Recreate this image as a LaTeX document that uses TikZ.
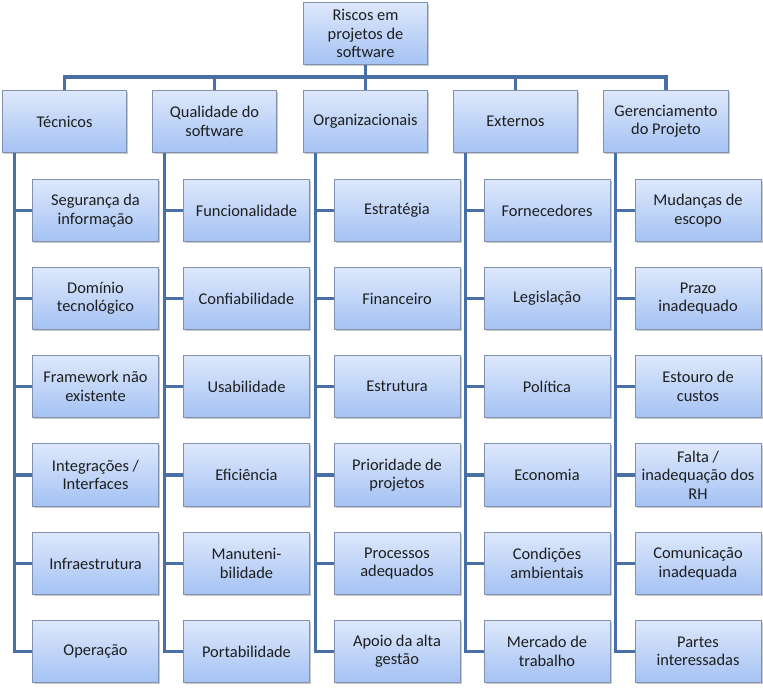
\documentclass[tikz,border=0pt]{standalone}
\usepackage{fontspec}
\setmainfont{Carlito}
\usetikzlibrary{shadows,backgrounds}
\definecolor{linec}{RGB}{72,112,166}
\definecolor{boxtop}{RGB}{222,232,251}
\definecolor{boxbot}{RGB}{164,194,244}
\definecolor{boxdraw}{RGB}{128,146,176}
\definecolor{txt}{RGB}{30,30,30}
\tikzset{
  box/.style={draw=boxdraw, line width=0.6pt, top color=boxtop, bottom color=boxbot,
    minimum width=93.5pt, minimum height=47pt, inner sep=1pt, align=center,
    font=\fontsize{12.3pt}{13.8pt}\selectfont, text=txt,
    drop shadow={shadow xshift=1.2pt, shadow yshift=-1.2pt, opacity=0.35, fill=black!60}},
  cbox/.style={box, minimum width=94.5pt},
  conn/.style={draw=linec, line width=2.3pt},
}
\begin{document}
\begin{tikzpicture}[x=0.75pt,y=-0.75pt]
\useasboundingbox (0,0) rectangle (763,690);
% root
\node[box] (root) at (365.5,33.5) {Riscos em\\projetos de\\software};
% level 1
\node[box] (p1) at (64.5,121.5) {Técnicos};
\node[box] (p2) at (214.5,121.5) {Qualidade do\\software};
\node[box] (p3) at (365.5,121.5) {Organizacionais};
\node[box] (p4) at (515.5,121.5) {Externos};
\node[box] (p5) at (666,121.5) {Gerenciamento\\do Projeto};
\coordinate (bar) at (365.5,77);
% children
\foreach \c/\x in {1/95.5,2/246.5,3/397,4/547,5/698}{
  \foreach \r/\y in {1/210.5,2/298.5,3/386.5,4/475,5/563.5,6/651.5}{
    \coordinate (pos\c\r) at (\x,\y);
  }
}
\node[cbox] (c11) at (pos11) {Segurança da\\informação};
\node[cbox] (c12) at (pos12) {Domínio\\tecnológico};
\node[cbox] (c13) at (pos13) {Framework não\\existente};
\node[cbox] (c14) at (pos14) {Integrações /\\Interfaces};
\node[cbox] (c15) at (pos15) {Infraestrutura};
\node[cbox] (c16) at (pos16) {Operação};
\node[cbox] (c21) at (pos21) {Funcionalidade};
\node[cbox] (c22) at (pos22) {Confiabilidade};
\node[cbox] (c23) at (pos23) {Usabilidade};
\node[cbox] (c24) at (pos24) {Eficiência};
\node[cbox] (c25) at (pos25) {Manuteni-\\bilidade};
\node[cbox] (c26) at (pos26) {Portabilidade};
\node[cbox] (c31) at (pos31) {Estratégia};
\node[cbox] (c32) at (pos32) {Financeiro};
\node[cbox] (c33) at (pos33) {Estrutura};
\node[cbox] (c34) at (pos34) {Prioridade de\\projetos};
\node[cbox] (c35) at (pos35) {Processos\\adequados};
\node[cbox] (c36) at (pos36) {Apoio da alta\\gestão};
\node[cbox] (c41) at (pos41) {Fornecedores};
\node[cbox] (c42) at (pos42) {Legislação};
\node[cbox] (c43) at (pos43) {Política};
\node[cbox] (c44) at (pos44) {Economia};
\node[cbox] (c45) at (pos45) {Condições\\ambientais};
\node[cbox] (c46) at (pos46) {Mercado de\\trabalho};
\node[cbox] (c51) at (pos51) {Mudanças de\\escopo};
\node[cbox] (c52) at (pos52) {Prazo\\inadequado};
\node[cbox] (c53) at (pos53) {Estouro de\\custos};
\node[cbox] (c54) at (pos54) {Falta /\\inadequação dos\\RH};
\node[cbox] (c55) at (pos55) {Comunicação\\inadequada};
\node[cbox] (c56) at (pos56) {Partes\\interessadas};
% connectors (behind boxes)
\begin{pgfonlayer}{background}
\draw[conn] (root.south) -- (bar);
\foreach \p in {1,...,5}{
  \draw[conn] (bar) -| (p\p.north);
}
\foreach \p in {1,...,5}{
  \foreach \r in {1,...,6}{
    \draw[conn] ([xshift=9.4pt]p\p.south west) |- (c\p\r.west);
  }
}
\end{pgfonlayer}
\end{tikzpicture}
\end{document}
